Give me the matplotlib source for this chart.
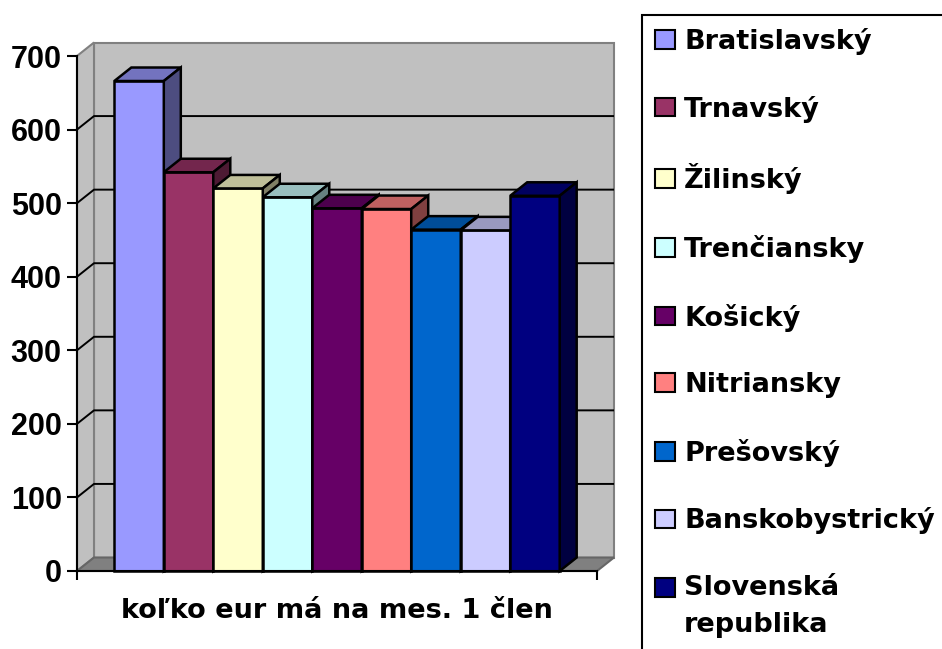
import matplotlib
matplotlib.use("Agg")
import matplotlib.pyplot as plt
from matplotlib.patches import Polygon, Rectangle
from matplotlib.font_manager import FontProperties
from matplotlib.legend_handler import HandlerPatch
import matplotlib.colors as mcolors

# ---- data ----
regions = ["Bratislavský", "Trnavský", "Žilinský", "Trenčiansky", "Košický",
           "Nitriansky", "Prešovský", "Banskobystrický", "Slovenská\nrepublika"]
values = [666, 542, 520, 508, 493, 492, 464, 463, 510]
colors = ["#9999FF", "#993366", "#FFFFCC", "#CCFFFF", "#660066",
          "#FF8080", "#0066CC", "#CCCCFF", "#000080"]
category_label = "koľko eur má na mes. 1 člen"
y_ticks = [0, 100, 200, 300, 400, 500, 600, 700]

# ---- layout ----
W, H = 942, 649
fig = plt.figure(figsize=(W / 100, H / 100), dpi=100)
fig.patch.set_facecolor("white")
ax_l, ax_r, ax_b, ax_t = 77, 597, 571, 56
ax = fig.add_axes([ax_l / W, (H - ax_b) / H, (ax_r - ax_l) / W, (ax_b - ax_t) / H])
ax.set_facecolor("none")

x0, x1 = -1.254, len(values) - 1 + 1.254
ymax = 700
ax.set_xlim(x0, x1)
ax.set_ylim(0, ymax)

# depth offset (pixels) converted to data units
DX, DY = 17, 13.5
ddx = DX * (x1 - x0) / (ax_r - ax_l)
ddy = DY * ymax / (ax_b - ax_t)

wall_c = "#C0C0C0"
floor_c = "#808080"
edge_gray = "#808080"

# back wall
ax.add_patch(Polygon([(x0 + ddx, ddy), (x1 + ddx, ddy), (x1 + ddx, ymax + ddy), (x0 + ddx, ymax + ddy)],
                     closed=True, facecolor=wall_c, edgecolor=edge_gray, lw=1.5, clip_on=False, zorder=0.5))
# left wall
ax.add_patch(Polygon([(x0, 0), (x0 + ddx, ddy), (x0 + ddx, ymax + ddy), (x0, ymax)],
                     closed=True, facecolor=wall_c, edgecolor=edge_gray, lw=1.5, clip_on=False, zorder=0.6))
# floor
ax.add_patch(Polygon([(x0, 0), (x1, 0), (x1 + ddx, ddy), (x0 + ddx, ddy)],
                     closed=True, facecolor=floor_c, edgecolor="#666666", lw=1.5, clip_on=False, zorder=0.7))
# gridlines
for v in y_ticks[1:-1]:
    ax.plot([x0, x0 + ddx, x1 + ddx], [v, v + ddy, v + ddy], color="black", lw=1.4,
            clip_on=False, zorder=0.8, solid_capstyle="butt")


def shade(c, f):
    r, g, b = mcolors.to_rgb(c)
    return (r * f, g * f, b * f)


# bars with 3D faces
for i, (v, c) in enumerate(zip(values, colors)):
    z = 3 + i * 0.1
    ax.bar(i, v, width=1.0, color=c, edgecolor="black", lw=1.8, zorder=z, clip_on=False)
    ax.add_patch(Polygon([(i - 0.5, v), (i + 0.5, v), (i + 0.5 + ddx, v + ddy), (i - 0.5 + ddx, v + ddy)],
                         closed=True, facecolor=shade(c, 0.75), edgecolor="black", lw=1.8,
                         joinstyle="miter", clip_on=False, zorder=z + 0.01))
    ax.add_patch(Polygon([(i + 0.5, 0), (i + 0.5 + ddx, ddy), (i + 0.5 + ddx, v + ddy), (i + 0.5, v)],
                         closed=True, facecolor=shade(c, 0.5), edgecolor="black", lw=1.8,
                         joinstyle="miter", clip_on=False, zorder=z + 0.02))

# axes styling
for s in ["top", "right"]:
    ax.spines[s].set_visible(False)
for s in ["left", "bottom"]:
    ax.spines[s].set_color("black")
    ax.spines[s].set_linewidth(1.5)
    ax.spines[s].set_zorder(5)

tick_font = FontProperties(family="Liberation Sans", weight="bold", size=22)
ax.set_yticks(y_ticks)
ax.set_yticklabels([str(t) for t in y_ticks], fontproperties=tick_font)
ax.tick_params(axis="y", direction="out", length=7, width=1.5, pad=4, color="black")
ax.set_xticks([x0, x1])
ax.set_xticklabels(["", ""])
ax.tick_params(axis="x", direction="out", length=6.5, width=1.5, color="black")

label_font = FontProperties(family="DejaVu Sans", weight="bold", size=19.5)
ax.set_xlabel(category_label, fontproperties=label_font)
ax.xaxis.label.set_va("baseline")
ax.xaxis.set_label_coords(0.5, -(618 - ax_b) / (ax_b - ax_t))


# legend: multi-line entry keeps its marker beside the first line
class FirstLineHandler(HandlerPatch):
    def __init__(self, shift_pts, **kw):
        super().__init__(**kw)
        self.shift_pts = shift_pts

    def create_artists(self, legend, orig_handle, xdescent, ydescent, width, height, fontsize, trans):
        arts = super().create_artists(legend, orig_handle, xdescent, ydescent, width, height, fontsize, trans)
        for a in arts:
            a.set_y(a.get_y() + self.shift_pts)
        return arts


handles = [Rectangle((0, 0), 1, 1, facecolor=c, edgecolor="black", lw=1.5) for c in colors]
handler_map = {handles[-1]: FirstLineHandler(14.0)}
leg = fig.legend(handles, regions, loc="upper left",
                 bbox_to_anchor=(641.7 / W, 1 - 15 / H), bbox_transform=fig.transFigure,
                 frameon=True, fancybox=False, framealpha=1, edgecolor="black",
                 borderaxespad=0, borderpad=0.48, handlelength=0.76, handleheight=0.68,
                 handletextpad=0.33, labelspacing=1.5, prop=label_font, handler_map=handler_map)
leg.get_frame().set_linewidth(1.5)
for t in leg.get_texts():
    t.set_linespacing(1.55)

fig.savefig("out.png", dpi=100, facecolor="white")
